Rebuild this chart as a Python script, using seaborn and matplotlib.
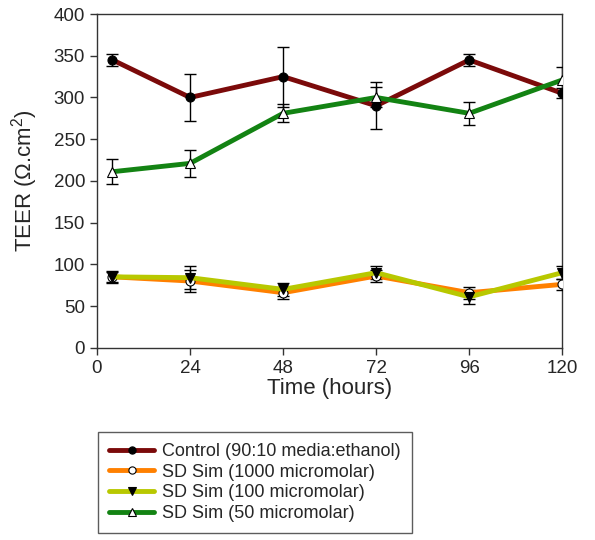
import pandas as pd
import matplotlib.pyplot as plt
import seaborn as sns

time_h = [4, 24, 48, 72, 96, 120]

control = [345, 300, 325, 290, 345, 305]
control_err = [7, 28, 36, 28, 7, 6]
sim1000 = [85, 80, 66, 86, 66, 76]
sim1000_err = [6, 13, 7, 7, 7, 7]
sim100 = [85, 84, 70, 90, 61, 90]
sim100_err = [7, 14, 8, 8, 8, 8]
sim50 = [211, 221, 281, 300, 281, 321]
sim50_err = [15, 16, 11, 12, 14, 15]

labels = ['Control (90:10 media:ethanol)', 'SD Sim (1000 micromolar)',
          'SD Sim (100 micromolar)', 'SD Sim (50 micromolar)']

sns.set_theme(style="ticks")
plt.rcParams['font.family'] = ['Liberation Sans', 'DejaVu Sans']
plt.rcParams['mathtext.default'] = 'regular'

fig = plt.figure(figsize=(5.95, 5.40), dpi=100)
ax = fig.add_axes([0.163, 0.356, 0.782, 0.618])

series = [
    (control, control_err, '#7b0a0a', 'o', 'black'),
    (sim1000, sim1000_err, '#ff8000', 'o', 'white'),
    (sim100, sim100_err, '#b8c800', 'v', 'black'),
    (sim50, sim50_err, '#138313', '^', 'white'),
]

for (vals, errs, col, mk, mfc), lab in zip(series, labels):
    df = pd.DataFrame({'time': time_h, 'teer': vals})
    ax.errorbar(df['time'], df['teer'], yerr=errs, fmt='none', ecolor='black',
                elinewidth=1, capsize=4.5, capthick=1, zorder=3)
    sns.lineplot(data=df, x='time', y='teer', ax=ax, color=col, linewidth=3.5,
                 marker=mk, markersize=6.5, markerfacecolor=mfc,
                 markeredgecolor='black', markeredgewidth=0.8, label=lab, zorder=4)

ax.set_xlim(0, 120)
ax.set_ylim(0, 400)
ax.set_xticks([0, 24, 48, 72, 96, 120])
ax.set_yticks(range(0, 401, 50))
ax.tick_params(labelsize=13.5, length=5, width=1, color='#333333', direction='out')
ax.set_xlabel('Time (hours)', fontsize=16, labelpad=1)
ax.set_ylabel('TEER (Ω.cm$^2$)', fontsize=16, labelpad=10)
for s in ax.spines.values():
    s.set_visible(True)
    s.set_color('#333333')
    s.set_linewidth(1)

handles, labs = ax.get_legend_handles_labels()
ax.get_legend().remove()
leg = fig.legend(handles, labs, loc='upper left', bbox_to_anchor=(0.165, 0.2),
                 borderaxespad=0, fontsize=13, frameon=True, fancybox=False,
                 edgecolor='#333333', handlelength=2.5, borderpad=0.6,
                 labelspacing=0.21, handletextpad=0.45, markerscale=0.8)
leg.get_frame().set_linewidth(1)

fig.savefig('out.png', dpi=100)
